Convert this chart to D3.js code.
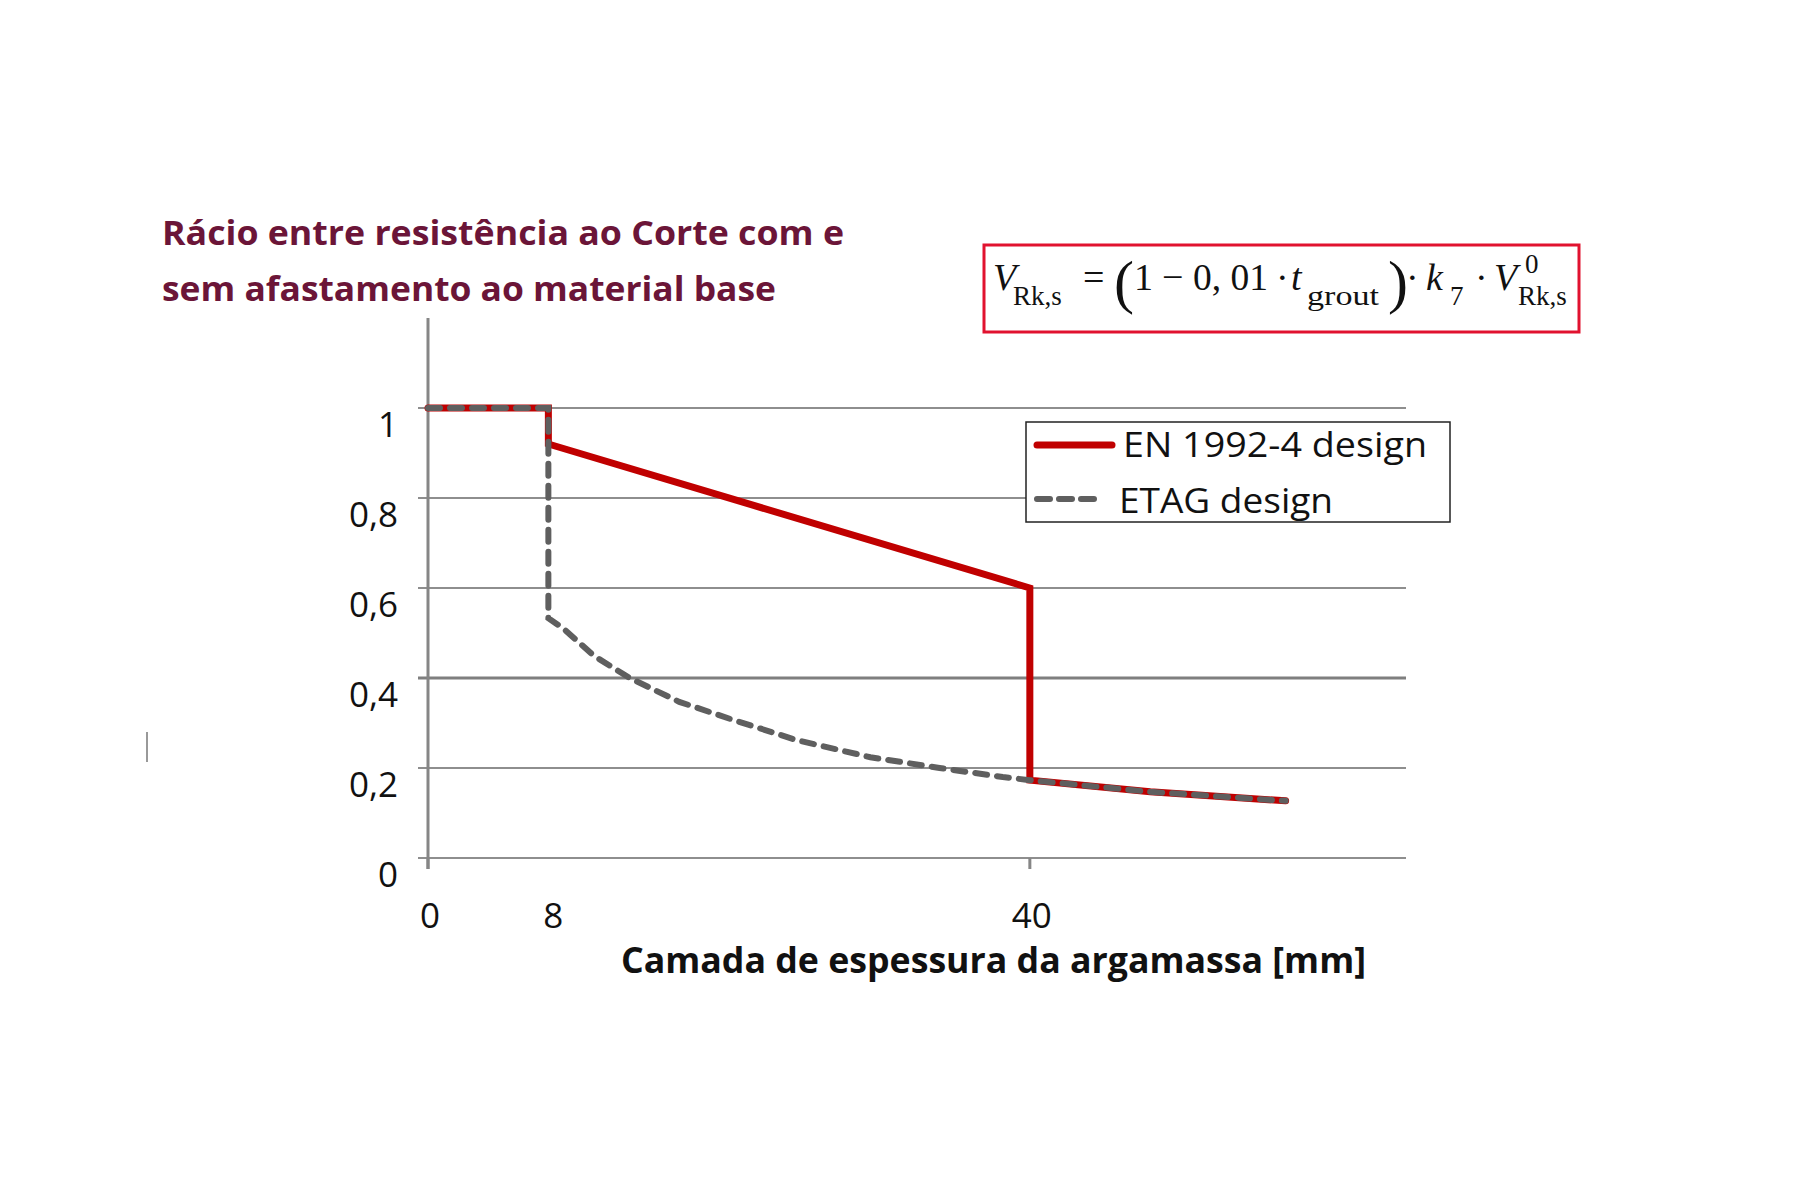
<!DOCTYPE html>
<html>
<head>
<meta charset="utf-8">
<script src="https://cdn.jsdelivr.net/npm/d3@7"></script>
<style>
  body { margin: 0; background: #fff; }
  svg text { font-family: "Open Sans", "Noto Sans", sans-serif; }
</style>
</head>
<body>
<div id="chart-holder"></div>
<script>
// data
let en_t = [0, 8, 8, 40, 40, 48, 57]
let en_v = [1, 1, 0.92, 0.6, 0.173, 0.147, 0.127]

let etag_t = [0, 8, 8, 9, 11, 13.4, 16.7, 20, 24.5, 29.4, 34, 38.2, 40, 48, 57]
let etag_v = [1, 1, 0.533, 0.51, 0.45, 0.4, 0.347, 0.31, 0.262, 0.224, 0.2, 0.18, 0.173, 0.147, 0.127]

let y_ticks = [0, 0.2, 0.4, 0.6, 0.8, 1]
let x_tick_labels = [0, 8, 40]
let x_tick_marks = [0, 40]
let series_names = ["EN 1992-4 design", "ETAG design"]

// dimensions
let width = 1800, height = 1200
let svg = d3.select("#chart-holder")
  .append("svg")
    .attr("width", width)
    .attr("height", height)

let x = d3.scaleLinear().domain([0, 65]).range([428, 1406])
let y = d3.scaleLinear().domain([0, 1.2]).range([858, 318])

// title
let title = svg.append("g")
  .attr("fill", "#6b1538")
  .style("font-weight", 700)
  .style("font-size", "34px")
title.append("text")
  .attr("x", 162).attr("y", 245)
  .attr("textLength", 682).attr("lengthAdjust", "spacingAndGlyphs")
  .text("Rácio entre resistência ao Corte com e")
title.append("text")
  .attr("x", 162).attr("y", 301)
  .attr("textLength", 614).attr("lengthAdjust", "spacingAndGlyphs")
  .text("sem afastamento ao material base")

// formula box
let fg = svg.append("g")
fg.append("rect")
  .attr("x", 984).attr("y", 245)
  .attr("width", 595).attr("height", 87)
  .attr("fill", "#fff")
  .attr("stroke", "#e1122f")
  .attr("stroke-width", 3)
let ff = "'Liberation Serif', 'DejaVu Serif', serif"
let parts = [
  {t: "V", x: 993, y: 290, s: 38, it: true},
  {t: "Rk,s", x: 1013, y: 305, s: 27},
  {t: "=", x: 1083, y: 290, s: 38},
  {t: "(", x: 1114, y: 302, s: 60},
  {t: "1", x: 1134, y: 290, s: 38},
  {t: "−", x: 1162, y: 290, s: 38},
  {t: "0, 01", x: 1193, y: 290, s: 38, w: 75},
  {t: "·", x: 1276, y: 290, s: 38},
  {t: "t", x: 1291, y: 290, s: 38, it: true},
  {t: "grout", x: 1307, y: 305, s: 27, w: 72},
  {t: ")", x: 1388, y: 302, s: 60},
  {t: "·", x: 1406, y: 290, s: 38},
  {t: "k", x: 1426, y: 290, s: 38, it: true},
  {t: "7", x: 1450, y: 305, s: 27},
  {t: "·", x: 1475, y: 290, s: 38},
  {t: "V", x: 1494, y: 290, s: 38, it: true},
  {t: "0", x: 1525, y: 273, s: 27},
  {t: "Rk,s", x: 1518, y: 305, s: 27}
]
fg.selectAll("text.f")
  .data(parts)
  .enter()
  .append("text")
    .attr("class", "f")
    .attr("x", d => d.x)
    .attr("y", d => d.y)
    .attr("textLength", d => d.w || null)
    .attr("lengthAdjust", "spacingAndGlyphs")
    .style("font-family", ff)
    .style("font-size", d => d.s + "px")
    .style("font-style", d => d.it ? "italic" : "normal")
    .attr("fill", "#111")
    .text(d => d.t)

// gridlines
svg.append("g")
  .selectAll("line")
  .data(y_ticks)
  .enter()
  .append("line")
    .attr("x1", x(0) - 10)
    .attr("x2", x(65))
    .attr("y1", d => y(d))
    .attr("y2", d => y(d))
    .attr("stroke", d => d == 0.4 ? "#7f7f7f" : "#8e8e8e")
    .attr("stroke-width", d => d == 0.4 ? 3 : 2)

// y axis
let yAxis = svg.append("g")
  .attr("transform", "translate(" + x(0) + ",0)")
  .call(d3.axisLeft(y)
    .tickValues(y_ticks)
    .tickSize(0)
    .tickPadding(30)
    .tickFormat(d => String(d).replace(".", ",")))
yAxis.select(".domain").remove()
yAxis.selectAll("text")
  .attr("dy", "0.8em")
  .style("font-size", "35px")
  .style("font-family", "'Open Sans', sans-serif")
  .attr("fill", "#111")

svg.append("line")
  .attr("x1", x(0)).attr("x2", x(0))
  .attr("y1", y(1.2)).attr("y2", y(0) + 11)
  .attr("stroke", "#868686").attr("stroke-width", 3)

// x axis tick marks and labels
svg.append("g")
  .selectAll("line")
  .data(x_tick_marks)
  .enter()
  .append("line")
    .attr("x1", d => x(d)).attr("x2", d => x(d))
    .attr("y1", y(0)).attr("y2", y(0) + 11)
    .attr("stroke", "#868686").attr("stroke-width", 3)

svg.append("g")
  .selectAll("text")
  .data(x_tick_labels)
  .enter()
  .append("text")
    .attr("x", d => x(d) + (d == 8 ? 5 : 2))
    .attr("y", 928)
    .attr("text-anchor", "middle")
    .style("font-size", "35px")
    .attr("fill", "#111")
    .text(d => d)

svg.append("text")
  .attr("x", 621).attr("y", 973)
  .attr("textLength", 745).attr("lengthAdjust", "spacingAndGlyphs")
  .style("font-size", "35px")
  .style("font-weight", 700)
  .attr("fill", "#111")
  .text("Camada de espessura da argamassa [mm]")

// lines
let line = d3.line()
  .x(d => x(d[0]))
  .y(d => y(d[1]))

svg.append("path")
  .datum(en_t.map((t, i) => [t, en_v[i]]))
  .attr("d", line)
  .attr("fill", "none")
  .attr("stroke", "#c00000")
  .attr("stroke-width", 7)
  .attr("stroke-linejoin", "miter")
  .attr("stroke-linecap", "round")

svg.append("path")
  .datum(etag_t.map((t, i) => [t, etag_v[i]]))
  .attr("d", line)
  .attr("fill", "none")
  .attr("stroke", "#5f5f5f")
  .attr("stroke-width", 6)
  .attr("stroke-dasharray", "12,10")
  .attr("stroke-linecap", "round")

// legend
let legend = svg.append("g")
legend.append("rect")
  .attr("x", 1026).attr("y", 422)
  .attr("width", 424).attr("height", 100)
  .attr("fill", "#fff")
  .attr("stroke", "#222")
  .attr("stroke-width", 1.5)
legend.append("line")
  .attr("x1", 1037).attr("x2", 1112)
  .attr("y1", 445).attr("y2", 445)
  .attr("stroke", "#c00000").attr("stroke-width", 7)
  .attr("stroke-linecap", "round")
legend.append("line")
  .attr("x1", 1037).attr("x2", 1100)
  .attr("y1", 499).attr("y2", 499)
  .attr("stroke", "#5f5f5f").attr("stroke-width", 6)
  .attr("stroke-dasharray", "13,9")
  .attr("stroke-linecap", "round")
legend.selectAll("text")
  .data(series_names)
  .enter()
  .append("text")
    .attr("x", (d, i) => i == 0 ? 1123 : 1119)
    .attr("y", (d, i) => i == 0 ? 457 : 513)
    .attr("textLength", (d, i) => i == 0 ? 304 : 214)
    .attr("lengthAdjust", "spacingAndGlyphs")
    .style("font-size", "35px")
    .attr("fill", "#111")
    .text(d => d)

// small artifact at left edge
svg.append("line")
  .attr("x1", 147).attr("x2", 147)
  .attr("y1", 732).attr("y2", 762)
  .attr("stroke", "#999").attr("stroke-width", 2)
</script>
</body>
</html>
